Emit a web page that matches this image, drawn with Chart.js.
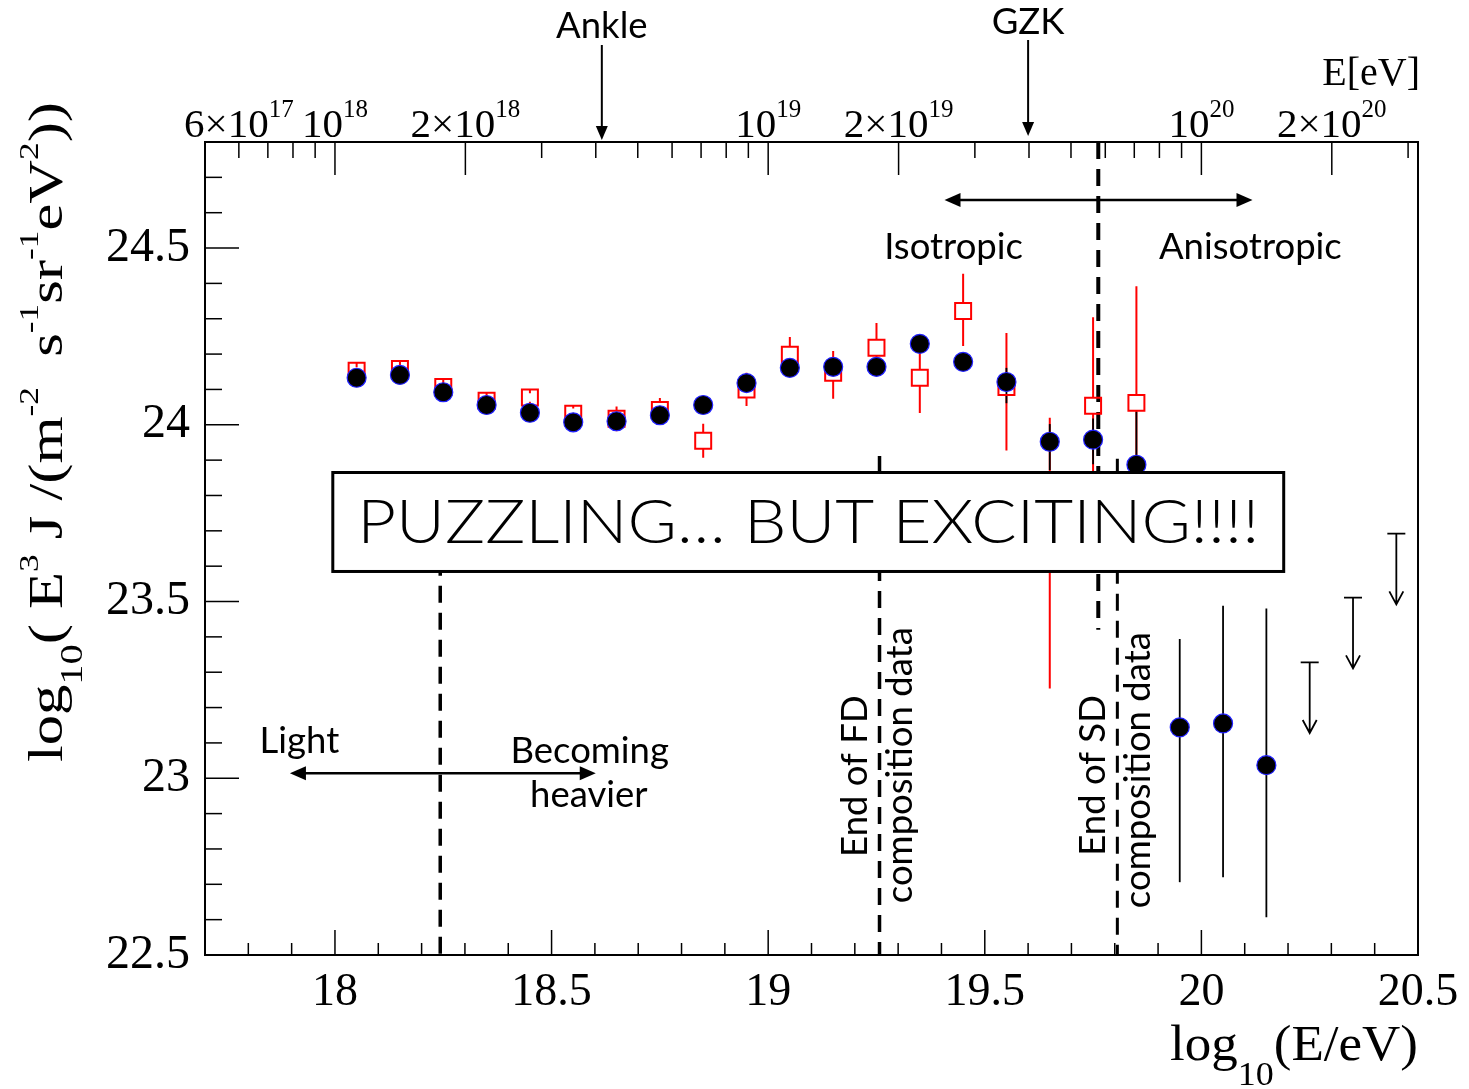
<!DOCTYPE html>
<html>
<head>
<meta charset="utf-8">
<script src="https://cdn.jsdelivr.net/npm/chart.js@4.4.1/dist/chart.umd.min.js"></script>
<style>
  html, body { margin: 0; padding: 0; background: #fff; }
  #wrap { width: 1469px; height: 1089px; position: relative; }
</style>
</head>
<body>
<div id="wrap"><canvas id="cv" width="1469" height="1089"></canvas></div>
<script>
// ---- data (log10 E/eV vs log10 E^3 J) ----
const sdLogE  = [18.05, 18.15, 18.25, 18.35, 18.45, 18.55, 18.65, 18.75, 18.85, 18.95, 19.05, 19.15, 19.25, 19.35, 19.45, 19.55, 19.65, 19.75, 19.85, 19.95, 20.05, 20.15];
const sdFlux  = [24.133, 24.141, 24.092, 24.056, 24.034, 24.007, 24.010, 24.027, 24.056, 24.118, 24.161, 24.164, 24.164, 24.229, 24.178, 24.121, 23.952, 23.958, 23.887, 23.144, 23.155, 23.037];
const sdErrUp = [0.008, 0.008, 0.008, 0.01, 0.01, 0.01, 0.012, 0.014, 0.016, 0.018, 0.02, 0.022, 0.024, 0.026, 0.024, 0.04, 0.05, 0.06, 0.15, 0.25, 0.333, 0.443];
const sdErrDn = [0.008, 0.008, 0.008, 0.01, 0.01, 0.01, 0.012, 0.014, 0.016, 0.018, 0.02, 0.022, 0.024, 0.026, 0.024, 0.06, 0.08, 0.07, 0.17, 0.438, 0.435, 0.43];

const fdLogE  = [18.05, 18.15, 18.25, 18.35, 18.45, 18.55, 18.65, 18.75, 18.85, 18.95, 19.05, 19.15, 19.25, 19.35, 19.45, 19.55, 19.65, 19.75, 19.85];
const fdFlux  = [24.153, 24.158, 24.107, 24.068, 24.077, 24.031, 24.017, 24.042, 23.955, 24.100, 24.198, 24.147, 24.218, 24.133, 24.322, 24.107, 23.637, 24.054, 24.062];
const fdErrUp = [0.01, 0.01, 0.01, 0.012, 0.012, 0.015, 0.035, 0.034, 0.048, 0.047, 0.05, 0.062, 0.07, 0.07, 0.105, 0.153, 0.383, 0.25, 0.33];
const fdErrDn = [0.01, 0.01, 0.01, 0.012, 0.012, 0.015, 0.035, 0.034, 0.048, 0.047, 0.05, 0.073, 0.07, 0.10, 0.099, 0.18, 0.383, 0.25, 0.15];

const ulLogE  = [20.25, 20.35, 20.45];
const ulFlux  = [23.328, 23.511, 23.692];

const xTicks  = [18, 18.5, 19, 19.5, 20, 20.5];
const yTicks  = [22.5, 23, 23.5, 24, 24.5];
const topMant = [6, 1, 2, 1, 2, 1, 2];
const topExp  = [17, 18, 18, 19, 19, 20, 20];

const SERIF = '"Liberation Serif", "DejaVu Serif", serif';
const SANS  = 'Lato, "Open Sans", sans-serif';
const LBL   = 36.5;

// ---- drawing helpers ----
function richWidth(ctx, parts, fam) {
  let w = 0;
  parts.forEach((p) => { ctx.font = p.s + "px " + fam; w += ctx.measureText(p.t).width; });
  return w;
}
function drawRich(ctx, parts, fam, x, y, align, fitW) {
  const w  = richWidth(ctx, parts, fam);
  const sx = fitW ? fitW / w : 1;
  ctx.save();
  ctx.translate(x, y);
  ctx.scale(sx, 1);
  let cx = align === "center" ? -w / 2 : align === "right" ? -w : 0;
  ctx.textAlign = "left"; ctx.textBaseline = "alphabetic"; ctx.fillStyle = "#000";
  parts.forEach((p) => {
    ctx.font = p.s + "px " + fam;
    ctx.fillText(p.t, cx, p.dy || 0);
    cx += ctx.measureText(p.t).width;
  });
  ctx.restore();
}
function head(ctx, x, y, ang, len, half) {
  const c = Math.cos(ang), s = Math.sin(ang);
  ctx.beginPath();
  ctx.moveTo(x, y);
  ctx.lineTo(x - len * c + half * s, y - len * s - half * c);
  ctx.lineTo(x - len * c - half * s, y - len * s + half * c);
  ctx.closePath(); ctx.fill();
}
function text(ctx, t, x, y, size, align) {
  ctx.font = size + "px " + SANS; ctx.fillStyle = "#000";
  ctx.textAlign = align || "center"; ctx.textBaseline = "alphabetic";
  ctx.fillText(t, x, y);
}
function vText(ctx, t, x, yc, size) {
  ctx.save(); ctx.translate(x, yc); ctx.rotate(-Math.PI / 2);
  text(ctx, t, 0, 0, size, "center");
  ctx.restore();
}

// ---- plugin: dashed markers, error bars, frame, ticks, annotations ----
const annot = {
  id: "annot",
  beforeDatasetsDraw(chart) {
    const { ctx, scales: { x, y } } = chart;
    const X = (v) => x.getPixelForValue(v), Y = (v) => y.getPixelForValue(v);

    // vertical dashed lines
    ctx.save();
    ctx.strokeStyle = "#000"; ctx.setLineDash([17, 10]);
    [[18.243, 23.85, 22.5, 3.5], [19.257, 23.912, 22.5, 3.5], [19.762, 24.8, 23.42, 4], [19.806, 23.904, 22.5, 3]].forEach(([lx, y0, y1, lw]) => {
      ctx.lineWidth = lw;
      ctx.beginPath(); ctx.moveTo(X(lx), Y(y0)); ctx.lineTo(X(lx), Y(y1)); ctx.stroke();
    });
    ctx.restore();

    // error bars: red first, then black
    ctx.save();
    ctx.strokeStyle = "#ff0000"; ctx.lineWidth = 2;
    fdLogE.forEach((e, i) => {
      const px = X(e), py = Y(fdFlux[i]);
      ctx.beginPath();
      ctx.moveTo(px, Y(fdFlux[i] + fdErrUp[i])); ctx.lineTo(px, py - 8);
      ctx.moveTo(px, py + 8); ctx.lineTo(px, Y(fdFlux[i] - fdErrDn[i]));
      ctx.stroke();
    });
    ctx.strokeStyle = "#000"; ctx.lineWidth = 1.8;
    sdLogE.forEach((e, i) => {
      const px = X(e);
      ctx.beginPath();
      ctx.moveTo(px, Y(sdFlux[i] + sdErrUp[i])); ctx.lineTo(px, Y(sdFlux[i] - sdErrDn[i]));
      ctx.stroke();
    });
    // upper limits
    ctx.fillStyle = "#000";
    ulLogE.forEach((e, i) => {
      const px = X(e), top = Y(ulFlux[i]), tip = Y(ulFlux[i] - 0.2);
      ctx.beginPath();
      ctx.moveTo(px - 9, top); ctx.lineTo(px + 9, top);
      ctx.moveTo(px, top); ctx.lineTo(px, tip);
      ctx.moveTo(px - 7, tip - 13); ctx.lineTo(px, tip); ctx.lineTo(px + 7, tip - 13);
      ctx.stroke();
    });
    ctx.restore();
  },
  afterDatasetsDraw(chart) {
    const { ctx, chartArea: a, scales: { x, y } } = chart;
    const X = (v) => x.getPixelForValue(v), Y = (v) => y.getPixelForValue(v);
    ctx.save();

    // frame
    ctx.strokeStyle = "#000"; ctx.lineWidth = 2;
    ctx.strokeRect(a.left, a.top, a.right - a.left, a.bottom - a.top);

    // bottom ticks
    ctx.lineWidth = 1.5;
    for (let k = 0; k <= 28; k++) {
      const v = 17.7 + k * 0.1, px = X(v);
      const major = Math.abs(v * 2 - Math.round(v * 2)) < 1e-6;
      ctx.beginPath(); ctx.moveTo(px, a.bottom); ctx.lineTo(px, a.bottom - (major ? 25 : 12)); ctx.stroke();
    }
    // left ticks
    for (let k = 0; k <= 23; k++) {
      const v = 22.5 + k * 0.1, py = Y(v);
      const major = Math.abs(v * 2 - Math.round(v * 2)) < 1e-6;
      ctx.beginPath(); ctx.moveTo(a.left, py); ctx.lineTo(a.left + (major ? 34 : 17), py); ctx.stroke();
    }
    // top energy axis ticks
    [17, 18, 19, 20].forEach((d) => {
      for (let m = 1; m <= 9; m++) {
        const lv = d + Math.log10(m);
        if (lv <= 17.7 + 1e-6 || lv >= 20.5) continue;
        const px = X(lv);
        ctx.beginPath(); ctx.moveTo(px, a.top); ctx.lineTo(px, a.top + (m <= 2 ? 33 : 16)); ctx.stroke();
      }
    });
    // top energy labels
    topMant.forEach((m, i) => {
      const px = X(topExp[i] + Math.log10(m));
      const parts = m === 1
        ? [{ t: "10", s: 41 }, { t: String(topExp[i]), s: 25, dy: -20 }]
        : [{ t: m + "\u00d710", s: 41 }, { t: String(topExp[i]), s: 25, dy: -20 }];
      drawRich(ctx, parts, SERIF, px, a.top - 5, "center");
    });
    drawRich(ctx, [{ t: "E[eV]", s: 40 }], SERIF, a.right + 2, 85, "right");

    // axis titles
    drawRich(ctx, [{ t: "log", s: 50 }, { t: "10", s: 34, dy: 25 }, { t: "(E/eV)", s: 50 }], SERIF, a.right, 1060, "right", 248);
    ctx.save();
    ctx.translate(62, 432); ctx.rotate(-Math.PI / 2);
    drawRich(ctx, [
      { t: "log", s: 48 }, { t: "10", s: 32, dy: 20 }, { t: "( E", s: 48 }, { t: "3", s: 28, dy: -24 },
      { t: " J /(m", s: 48 }, { t: "-2", s: 28, dy: -24 }, { t: "  s", s: 48 }, { t: "-1", s: 28, dy: -24 },
      { t: "sr", s: 48 }, { t: "-1", s: 28, dy: -24 }, { t: "eV", s: 48 }, { t: "2", s: 28, dy: -24 }, { t: "))", s: 48 },
    ], SERIF, 0, 0, "center", 660);
    ctx.restore();

    // Ankle / GZK arrows
    ctx.fillStyle = "#000"; ctx.lineWidth = 2;
    [[18.616, 45, 140, "Ankle", 38], [19.6, 40, 136, "GZK", 34]].forEach(([lx, y0, y1, t, by]) => {
      const px = X(lx);
      ctx.beginPath(); ctx.moveTo(px, y0); ctx.lineTo(px, y1 - 10); ctx.stroke();
      head(ctx, px, y1, Math.PI / 2, 14, 6);
      text(ctx, t, px, by, LBL);
    });

    // horizontal double arrows
    ctx.lineWidth = 2.5;
    [[19.407, 20.118, 24.636], [17.896, 18.602, 23.014]].forEach(([x0, x1, yv]) => {
      const p0 = X(x0), p1 = X(x1), py = Y(yv);
      ctx.beginPath(); ctx.moveTo(p0 + 8, py); ctx.lineTo(p1 - 8, py); ctx.stroke();
      head(ctx, p0, py, Math.PI, 16, 7);
      head(ctx, p1, py, 0, 16, 7);
    });
    text(ctx, "Isotropic", X(19.428), Y(24.469), LBL);
    text(ctx, "Anisotropic", X(20.113), Y(24.469), LBL);
    text(ctx, "Light", X(17.918), Y(23.071), LBL);
    text(ctx, "Becoming", X(18.588), Y(23.042), LBL);
    text(ctx, "heavier", X(18.586), Y(22.918), LBL);

    // box
    const bx0 = X(17.995), bx1 = X(20.19), by0 = Y(23.865), by1 = Y(23.585);
    ctx.fillStyle = "#fff"; ctx.fillRect(bx0, by0, bx1 - bx0, by1 - by0);
    ctx.strokeStyle = "#000"; ctx.lineWidth = 3;
    ctx.strokeRect(bx0, by0, bx1 - bx0, by1 - by0);
    ctx.font = "300 62px " + SANS;
    const msg = "PUZZLING\u2026 BUT EXCITING!!!!";
    const mw = ctx.measureText(msg).width;
    ctx.save();
    ctx.translate((bx0 + bx1) / 2, (by0 + by1) / 2 + 21);
    ctx.scale(902 / mw, 1);
    ctx.fillStyle = "#000"; ctx.textAlign = "center"; ctx.textBaseline = "alphabetic";
    ctx.fillText(msg, 0, 0);
    ctx.restore();

    // rotated composition labels
    vText(ctx, "End of FD", X(19.229), Y(23.006), LBL);
    vText(ctx, "composition data", X(19.331), Y(23.037), LBL);
    vText(ctx, "End of SD", X(19.778), Y(23.008), LBL);
    vText(ctx, "composition data", X(19.882), Y(23.023), LBL);

    ctx.restore();
  },
};

new Chart(document.getElementById("cv").getContext("2d"), {
  type: "scatter",
  plugins: [annot],
  data: {
    datasets: [
      {
        label: "SD", order: 1,
        data: sdLogE.map((e, i) => ({ x: e, y: sdFlux[i] })),
        pointStyle: "circle", pointRadius: 9.5, backgroundColor: "#000", borderColor: "#2020ff", borderWidth: 1.2,
      },
      {
        label: "FD", order: 2,
        data: fdLogE.map((e, i) => ({ x: e, y: fdFlux[i] })),
        pointStyle: "rect", pointRadius: 11.3, backgroundColor: "rgba(255,255,255,0)", borderColor: "#ff0000", borderWidth: 2,
      },
    ],
  },
  options: {
    responsive: false, animation: false, events: [],
    layout: { padding: { left: 0, right: 51, top: 142, bottom: 0 } },
    plugins: { legend: { display: false }, tooltip: { enabled: false } },
    scales: {
      x: {
        type: "linear", min: 17.7, max: 20.5,
        afterBuildTicks: (s) => { s.ticks = xTicks.map((v) => ({ value: v })); },
        afterFit: (s) => { s.height = 134; },
        grid: { display: false, drawTicks: false }, border: { display: false },
        ticks: { color: "#000", padding: 10, font: { family: SERIF, size: 46 }, maxRotation: 0, autoSkip: false, callback: (v) => String(v) },
      },
      y: {
        type: "linear", min: 22.5, max: 24.8,
        afterBuildTicks: (s) => { s.ticks = yTicks.map((v) => ({ value: v })); },
        afterFit: (s) => { s.width = 205; },
        grid: { display: false, drawTicks: false }, border: { display: false },
        ticks: { color: "#000", padding: 15, font: { family: SERIF, size: 48 }, autoSkip: false, callback: (v) => String(v) },
      },
    },
  },
});
</script>
</body>
</html>
